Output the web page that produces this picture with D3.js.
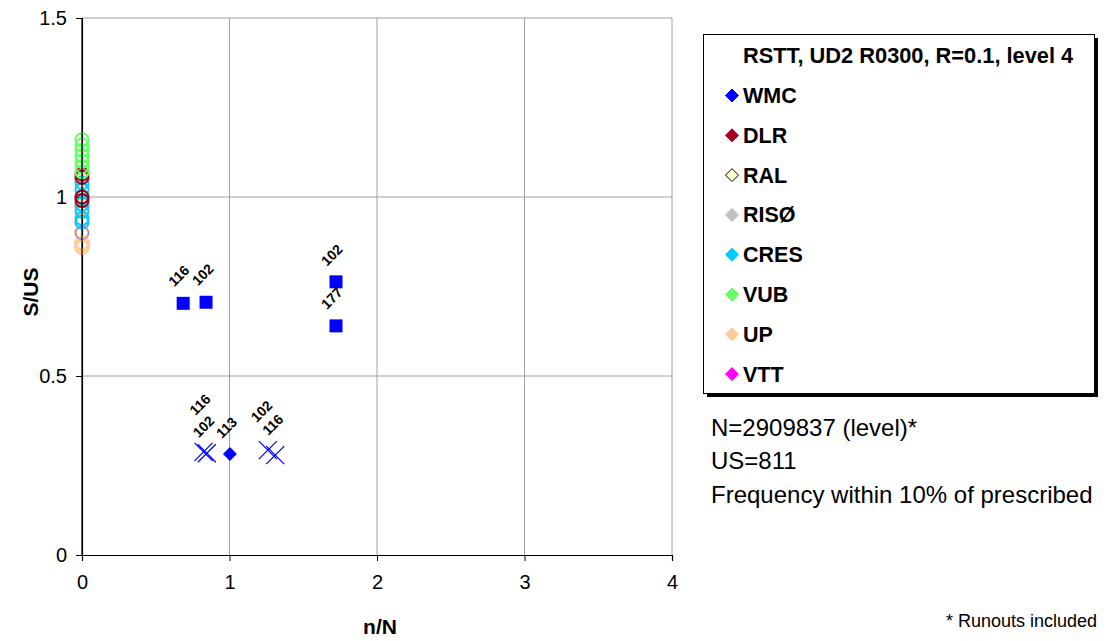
<!DOCTYPE html>
<html>
<head>
<meta charset="utf-8">
<script src="https://cdn.jsdelivr.net/npm/d3@7"></script>
<style>
  html, body { margin: 0; padding: 0; background: #fff; }
  svg { display: block; font-family: "Liberation Sans", Arial, sans-serif; }
  .tick text { font-size: 20px; font-family: "Liberation Sans", Arial, sans-serif; fill: #000; }
</style>
</head>
<body>
<svg id="chart" width="1110" height="641"></svg>
<script>
// ---- data ----
const xTicks = [0, 1, 2, 3, 4];
const yTicks = [0, 0.5, 1, 1.5];

const seriesNames  = ["WMC", "DLR", "RAL", "RISØ", "CRES", "VUB", "UP", "VTT"];
const seriesColors = ["#0000ff", "#a50021", "#000000", "#c0c0c0", "#00ccff", "#66ff66", "#ffcc99", "#ff00ff"];
const legendFills  = ["#0000ff", "#a50021", "#ffffcc", "#c0c0c0", "#00ccff", "#66ff66", "#ffcc99", "#ff00ff"];

// static tests at n/N = 0, per laboratory
const staticVUB  = [1.16, 1.145, 1.13, 1.115, 1.10, 1.085, 1.07];
const staticDLR  = [1.065, 1.055, 1.0, 0.99];
const staticWMC  = [1.06, 1.0, 0.99, 0.90];
const staticCRES = [1.04, 1.02, 1.0, 0.98, 0.96, 0.94, 0.93];
const staticUP   = [1.05, 1.0, 0.97, 0.93, 0.90, 0.87, 0.86];

// WMC fatigue results: n/N, S/US, specimen id, marker
const wmcX     = [0.686, 0.841, 1.722, 1.722, 0.824, 0.846, 1.003, 1.26, 1.31];
const wmcY     = [0.703, 0.706, 0.763, 0.640, 0.288, 0.284, 0.282, 0.293, 0.279];
const wmcLabel = ["116", "102", "102", "177", "116", "102", "113", "102", "116"];
const wmcShape = ["square", "square", "square", "square", "cross", "cross", "diamond", "cross", "cross"];

const notes = ["N=2909837 (level)*", "US=811", "Frequency within 10% of prescribed"];

// ---- layout ----
const svg = d3.select("#chart");
const x = d3.scaleLinear().domain([0, 4]).range([82, 672]);
const y = d3.scaleLinear().domain([0, 1.5]).range([555, 18]);

// where each rotated id label starts, relative to its marker
const labelShift = [[-9, -16], [-8, -16], [-9, -15], [-9, -16], [-8, -36], [-8, -15], [-8, -15], [-11, -27], [-7, -19]];

// gridlines
svg.append("g").selectAll("line").data(xTicks.filter(d => d > 0))
  .join("line")
  .attr("x1", d => x(d)).attr("x2", d => x(d))
  .attr("y1", y(0)).attr("y2", y(1.5))
  .attr("stroke", "#a0a0a0").attr("stroke-width", 1);
svg.append("g").selectAll("line").data(yTicks.filter(d => d > 0))
  .join("line")
  .attr("x1", x(0)).attr("x2", x(4))
  .attr("y1", d => y(d)).attr("y2", d => y(d))
  .attr("stroke", "#a0a0a0").attr("stroke-width", 1);

// axes
const xAxis = svg.append("g").attr("transform", `translate(0,${y(0)})`)
  .call(d3.axisBottom(x).tickValues(xTicks).tickFormat(d3.format("d")).tickSize(6).tickPadding(14));
const yAxis = svg.append("g").attr("transform", `translate(${x(0)},0)`)
  .call(d3.axisLeft(y).tickValues(yTicks).tickFormat(d => d === 0 ? "0" : String(d)).tickSize(6).tickPadding(9));
[xAxis, yAxis].forEach(g => {
  g.attr("font-size", 20).attr("font-family", "Liberation Sans, Arial, sans-serif");
  g.select(".domain").attr("stroke", "#000").attr("stroke-width", 1.2);
  g.selectAll(".tick line").attr("stroke", "#000");
});

// axis titles
svg.append("text").attr("x", x(2) + 3).attr("y", 634)
  .attr("text-anchor", "middle").attr("font-size", 21).attr("font-weight", "bold").text("n/N");
svg.append("text").attr("transform", `translate(38,292) rotate(-90)`)
  .attr("text-anchor", "middle").attr("font-size", 21).attr("font-weight", "bold").text("S/US");

// static results as open circles on the S/US axis
const staticSets = [
  { data: staticUP,   color: seriesColors[6], w: 3 },
  { data: staticWMC,  color: "#7b68ee",       w: 1 },
  { data: staticCRES, color: seriesColors[4], w: 2 },
  { data: staticDLR,  color: seriesColors[1], w: 2 },
  { data: staticVUB,  color: seriesColors[5], w: 2 }
];
staticSets.forEach(s => {
  svg.append("g").selectAll("circle").data(s.data).join("circle")
    .attr("cx", x(0)).attr("cy", d => y(d)).attr("r", 6.5)
    .attr("fill", "none").attr("stroke", s.color).attr("stroke-width", s.w);
});
// axis line on top of the circles
svg.append("line").attr("x1", x(0)).attr("x2", x(0)).attr("y1", y(1.5)).attr("y2", y(0))
  .attr("stroke", "#000").attr("stroke-width", 1.2);

// WMC fatigue points
const wmc = wmcX.map((v, i) => ({ x: v, y: wmcY[i], label: wmcLabel[i], shape: wmcShape[i], shift: labelShift[i] }));
const blue = seriesColors[0];
const pts = svg.append("g");
wmc.forEach(d => {
  const cx = x(d.x), cy = y(d.y);
  if (d.shape === "square") {
    pts.append("rect").attr("x", cx - 6.5).attr("y", cy - 6.5).attr("width", 13).attr("height", 13).attr("fill", blue);
  } else if (d.shape === "diamond") {
    pts.append("path").attr("d", `M${cx},${cy - 7}L${cx + 7},${cy}L${cx},${cy + 7}L${cx - 7},${cy}Z`).attr("fill", blue);
  } else {
    const r = 9;
    pts.append("path").attr("d", `M${cx - r},${cy - r}L${cx + r},${cy + r}M${cx - r},${cy + r}L${cx + r},${cy - r}`)
      .attr("stroke", blue).attr("stroke-width", 1.3).attr("fill", "none");
  }
  pts.append("text")
    .attr("transform", `translate(${cx + d.shift[0]},${cy + d.shift[1]}) rotate(-45)`)
    .attr("font-size", 14).attr("font-weight", "bold").attr("fill", "#000")
    .text(d.label);
});

// legend box with shadow
const lg = svg.append("g");
lg.append("rect").attr("x", 707).attr("y", 38).attr("width", 391).attr("height", 359).attr("fill", "#000");
lg.append("rect").attr("x", 703.5).attr("y", 34.5).attr("width", 391).attr("height", 359)
  .attr("fill", "#fff").attr("stroke", "#000").attr("stroke-width", 1);
lg.append("text").attr("x", 743).attr("y", 63).attr("font-size", 21.8).attr("font-weight", "bold")
  .text("RSTT, UD2 R0300, R=0.1, level 4");
seriesNames.forEach((name, i) => {
  const cy = 95.5 + i * 39.8;
  lg.append("path").attr("d", `M732,${cy - 6.5}L738.5,${cy}L732,${cy + 6.5}L725.5,${cy}Z`)
    .attr("fill", legendFills[i]).attr("stroke", i === 2 ? "#000" : legendFills[i]).attr("stroke-width", 1);
  lg.append("text").attr("x", 743).attr("y", cy + 7.5).attr("font-size", 21.5).attr("font-weight", "bold").text(name);
});

// notes
notes.forEach((t, i) => {
  svg.append("text").attr("x", 711).attr("y", 435.5 + i * 33.5).attr("font-size", 24).text(t);
});
svg.append("text").attr("x", 1097).attr("y", 627).attr("text-anchor", "end").attr("font-size", 18).text("* Runouts included");
</script>
</body>
</html>
